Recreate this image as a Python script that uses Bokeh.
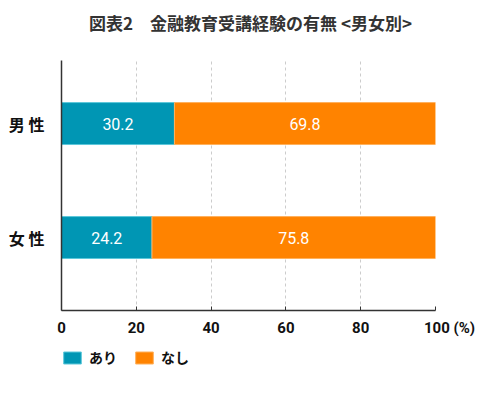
from bokeh.plotting import figure
from bokeh.layouts import column
from bokeh.models import FixedTicker, Label, Legend, LegendItem, Range1d, ColumnDataSource
from bokeh.embed import file_html
from bokeh.resources import INLINE
from bokeh.core.properties import value

# data
groups = ["男 性", "女 性"]
group_pos = [1, 0]
ari = [30.2, 24.2]
nashi = [69.8, 75.8]
series_names = ["あり", "なし"]
colors = ["#0096b4", "#ff8300"]
edge_colors = ["#5cc8da", "#ffb15c"]
x_ticks = [0, 20, 40, 60, 80, 100]
title_text = "図表2　金融教育受講経験の有無 <男女別>"
unit_text = "(%)"

JP = "Noto Sans CJK JP"
NUM = "Roboto"

src = ColumnDataSource(dict(
    y=group_pos,
    ari_end=ari,
    nashi_end=[a + n for a, n in zip(ari, nashi)],
    ari_mid=[a / 2 for a in ari],
    nashi_mid=[a + n / 2 for a, n in zip(ari, nashi)],
    ari_txt=[f"{v:.1f}" for v in ari],
    nashi_txt=[f"{v:.1f}" for v in nashi],
))


def strip(height):
    # thin helper figure without axes (title / legend rows)
    f = figure(width=500, height=height, output_backend="svg", toolbar_location=None,
               x_range=Range1d(0, 100), y_range=Range1d(10, 11),
               x_axis_location=None, y_axis_location=None,
               min_border_left=0, min_border_right=0, min_border_top=0, min_border_bottom=0)
    f.outline_line_color = None
    f.grid.visible = False
    return f


# title row
hd = strip(45)
hd.add_layout(Label(x=50, y=23, x_units="data", y_units="screen", x_offset=2,
                    text=title_text, text_font=JP, text_font_size="17px",
                    text_font_style="bold", text_color="#333333",
                    text_align="center", text_baseline="middle"))

# main chart
p = figure(width=500, height=300, output_backend="svg", toolbar_location=None,
           x_range=Range1d(0, 100), y_range=Range1d(-0.64, 1.553),
           min_border_left=61, min_border_right=65,
           min_border_top=15, min_border_bottom=35)
p.outline_line_color = None

# stacked bars
p.hbar(y="y", left=0, right="ari_end", height=0.368, source=src,
       fill_color=colors[0], line_color=edge_colors[0], line_width=1)
p.hbar(y="y", left="ari_end", right="nashi_end", height=0.368, source=src,
       fill_color=colors[1], line_color=edge_colors[1], line_width=1)

# values inside bars
for col, txt in (("ari_mid", "ari_txt"), ("nashi_mid", "nashi_txt")):
    p.text(x=col, y="y", text=txt, source=src, text_color="white",
           text_font=value(NUM), text_font_size="16px",
           text_align="center", text_baseline="middle")

# grid
p.ygrid.visible = False
p.xgrid.grid_line_color = "#cccccc"
p.xgrid.grid_line_dash = "3 3"
p.xgrid.ticker = FixedTicker(ticks=x_ticks[1:])

# x axis, unit put after the last tick (padded so "100" stays centred)
pad = "\u2007" * 2 + "\u00a0" * 3
p.xaxis.ticker = FixedTicker(ticks=x_ticks)
p.xaxis.major_label_overrides = {x_ticks[-1]: pad + str(x_ticks[-1]) + " " + unit_text}
p.xaxis.axis_line_color = "#333333"
p.xaxis.axis_line_width = 1.5
p.xaxis.major_tick_in = 4
p.xaxis.major_tick_out = 0
p.xaxis.major_tick_line_color = "#333333"
p.xaxis.minor_tick_line_color = None
p.xaxis.major_label_text_font = NUM
p.xaxis.major_label_text_font_style = "bold"
p.xaxis.major_label_text_font_size = "15px"
p.xaxis.major_label_text_color = "#111111"
p.xaxis.major_label_standoff = 8

# y axis
p.yaxis.ticker = FixedTicker(ticks=group_pos)
p.yaxis.major_label_overrides = {pos: g for pos, g in zip(group_pos, groups)}
p.yaxis.axis_line_color = "#333333"
p.yaxis.axis_line_width = 1.5
p.yaxis.major_tick_line_color = None
p.yaxis.minor_tick_line_color = None
p.yaxis.major_label_text_font = JP
p.yaxis.major_label_text_font_style = "bold"
p.yaxis.major_label_text_font_size = "16px"
p.yaxis.major_label_text_color = "#111111"
p.yaxis.major_label_standoff = 11

# legend row (same series, bars kept out of view, only the legend shows)
lg = strip(40)
r1 = lg.hbar(y="y", left=0, right="ari_end", height=0.368, source=src,
             fill_color=colors[0], line_color=edge_colors[0], line_width=1)
r2 = lg.hbar(y="y", left="ari_end", right="nashi_end", height=0.368, source=src,
             fill_color=colors[1], line_color=edge_colors[1], line_width=1)
legend = Legend(items=[LegendItem(label=series_names[0], renderers=[r1]),
                       LegendItem(label=series_names[1], renderers=[r2])],
                orientation="horizontal", location=(0, 18),
                glyph_width=22, glyph_height=15, label_height=15,
                label_standoff=6, spacing=16, padding=0, margin=0,
                border_line_alpha=0, background_fill_alpha=0,
                label_text_font=JP, label_text_font_style="bold",
                label_text_font_size="14px", label_text_color="#111111")
lg.add_layout(legend, "center")

open("out.html", "w").write(file_html(column(hd, p, lg), INLINE))
